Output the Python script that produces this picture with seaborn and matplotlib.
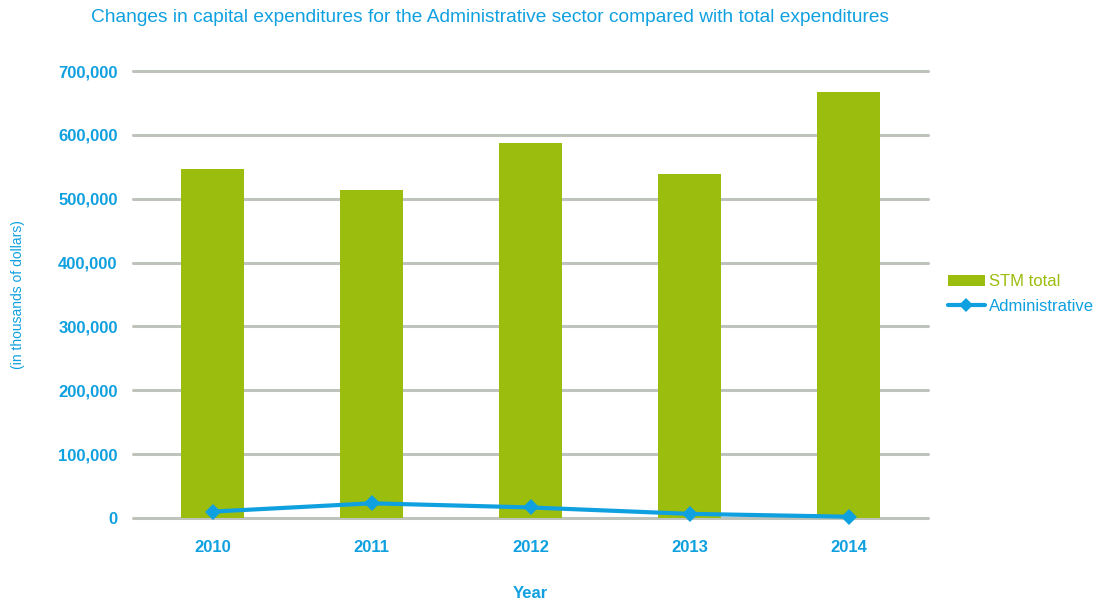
import matplotlib
matplotlib.use("Agg")
import matplotlib.pyplot as plt
import seaborn as sns
import pandas as pd
from matplotlib.lines import Line2D
from matplotlib.patches import Patch
from matplotlib.ticker import FuncFormatter

years = ["2010", "2011", "2012", "2013", "2014"]
stm_total = [546000, 513000, 587000, 538000, 667000]
administrative = [10000, 23000, 16500, 6500, 2000]

GREEN = "#9BBD0E"
BLUE = "#0FA0DF"
GRID = "#BEC3BB"

sns.set_theme(style="white")
plt.rcParams["font.family"] = ["Liberation Sans", "DejaVu Sans"]

df = pd.DataFrame({"Year": years, "STM total": stm_total, "Administrative": administrative})

fig = plt.figure(figsize=(10.98, 6.03), dpi=100)
ax = fig.add_axes([133 / 1098, 1 - 518 / 603, (928 - 133) / 1098, (518 - 71) / 603])

sns.barplot(data=df, x="Year", y="STM total", color=GREEN, width=0.40,
            saturation=1, linewidth=0, edgecolor="none", ax=ax, zorder=2)
sns.lineplot(x=range(len(years)), y=df["Administrative"], color=BLUE, linewidth=3,
             marker="D", markersize=8, markeredgewidth=0, ax=ax, zorder=3, clip_on=False)

ax.set_xlim(-0.5, len(years) - 0.5)
ax.set_ylim(0, 700000)
ax.set_yticks(range(0, 700001, 100000))
ax.yaxis.set_major_formatter(FuncFormatter(lambda v, p: f"{int(v):,}"))
ax.grid(axis="y", color=GRID, linewidth=2.2, zorder=0)
for gl in ax.get_ygridlines():
    gl.set_clip_on(False)
ax.set_axisbelow(True)
for s in ax.spines.values():
    s.set_visible(False)

ax.tick_params(axis="both", length=0, labelcolor=BLUE, labelsize=12)
ax.tick_params(axis="y", pad=11)
ax.tick_params(axis="x", pad=16)
for lbl in ax.get_xticklabels() + ax.get_yticklabels():
    lbl.set_fontweight("bold")

ax.set_xlabel("Year", color=BLUE, fontsize=12, fontweight="bold", labelpad=22)
ax.set_ylabel("")
fig.text(18 / 1098, 1 - 295 / 603, "(in thousands of dollars)", rotation=90,
         color=BLUE, fontsize=10, ha="center", va="center", fontstretch="condensed")

fig.text(91 / 1098, 1 - 18 / 603,
         "Changes in capital expenditures for the Administrative sector compared with total expenditures",
         color=BLUE, fontsize=13.75, ha="left", va="center")

handles = [Patch(facecolor=GREEN, edgecolor="none"),
           Line2D([], [], color=BLUE, linewidth=3, marker="D", markersize=7, markeredgewidth=0)]
leg = fig.legend(handles, ["STM total", "Administrative"], loc="center left",
                 bbox_to_anchor=(948 / 1098, 1 - 294 / 603), frameon=False, borderpad=0,
                 borderaxespad=0, fontsize=12, handlelength=2.2, handletextpad=0.25,
                 labelspacing=0.55)
for t, c in zip(leg.get_texts(), [GREEN, BLUE]):
    t.set_color(c)

fig.savefig("out.png", dpi=100)
